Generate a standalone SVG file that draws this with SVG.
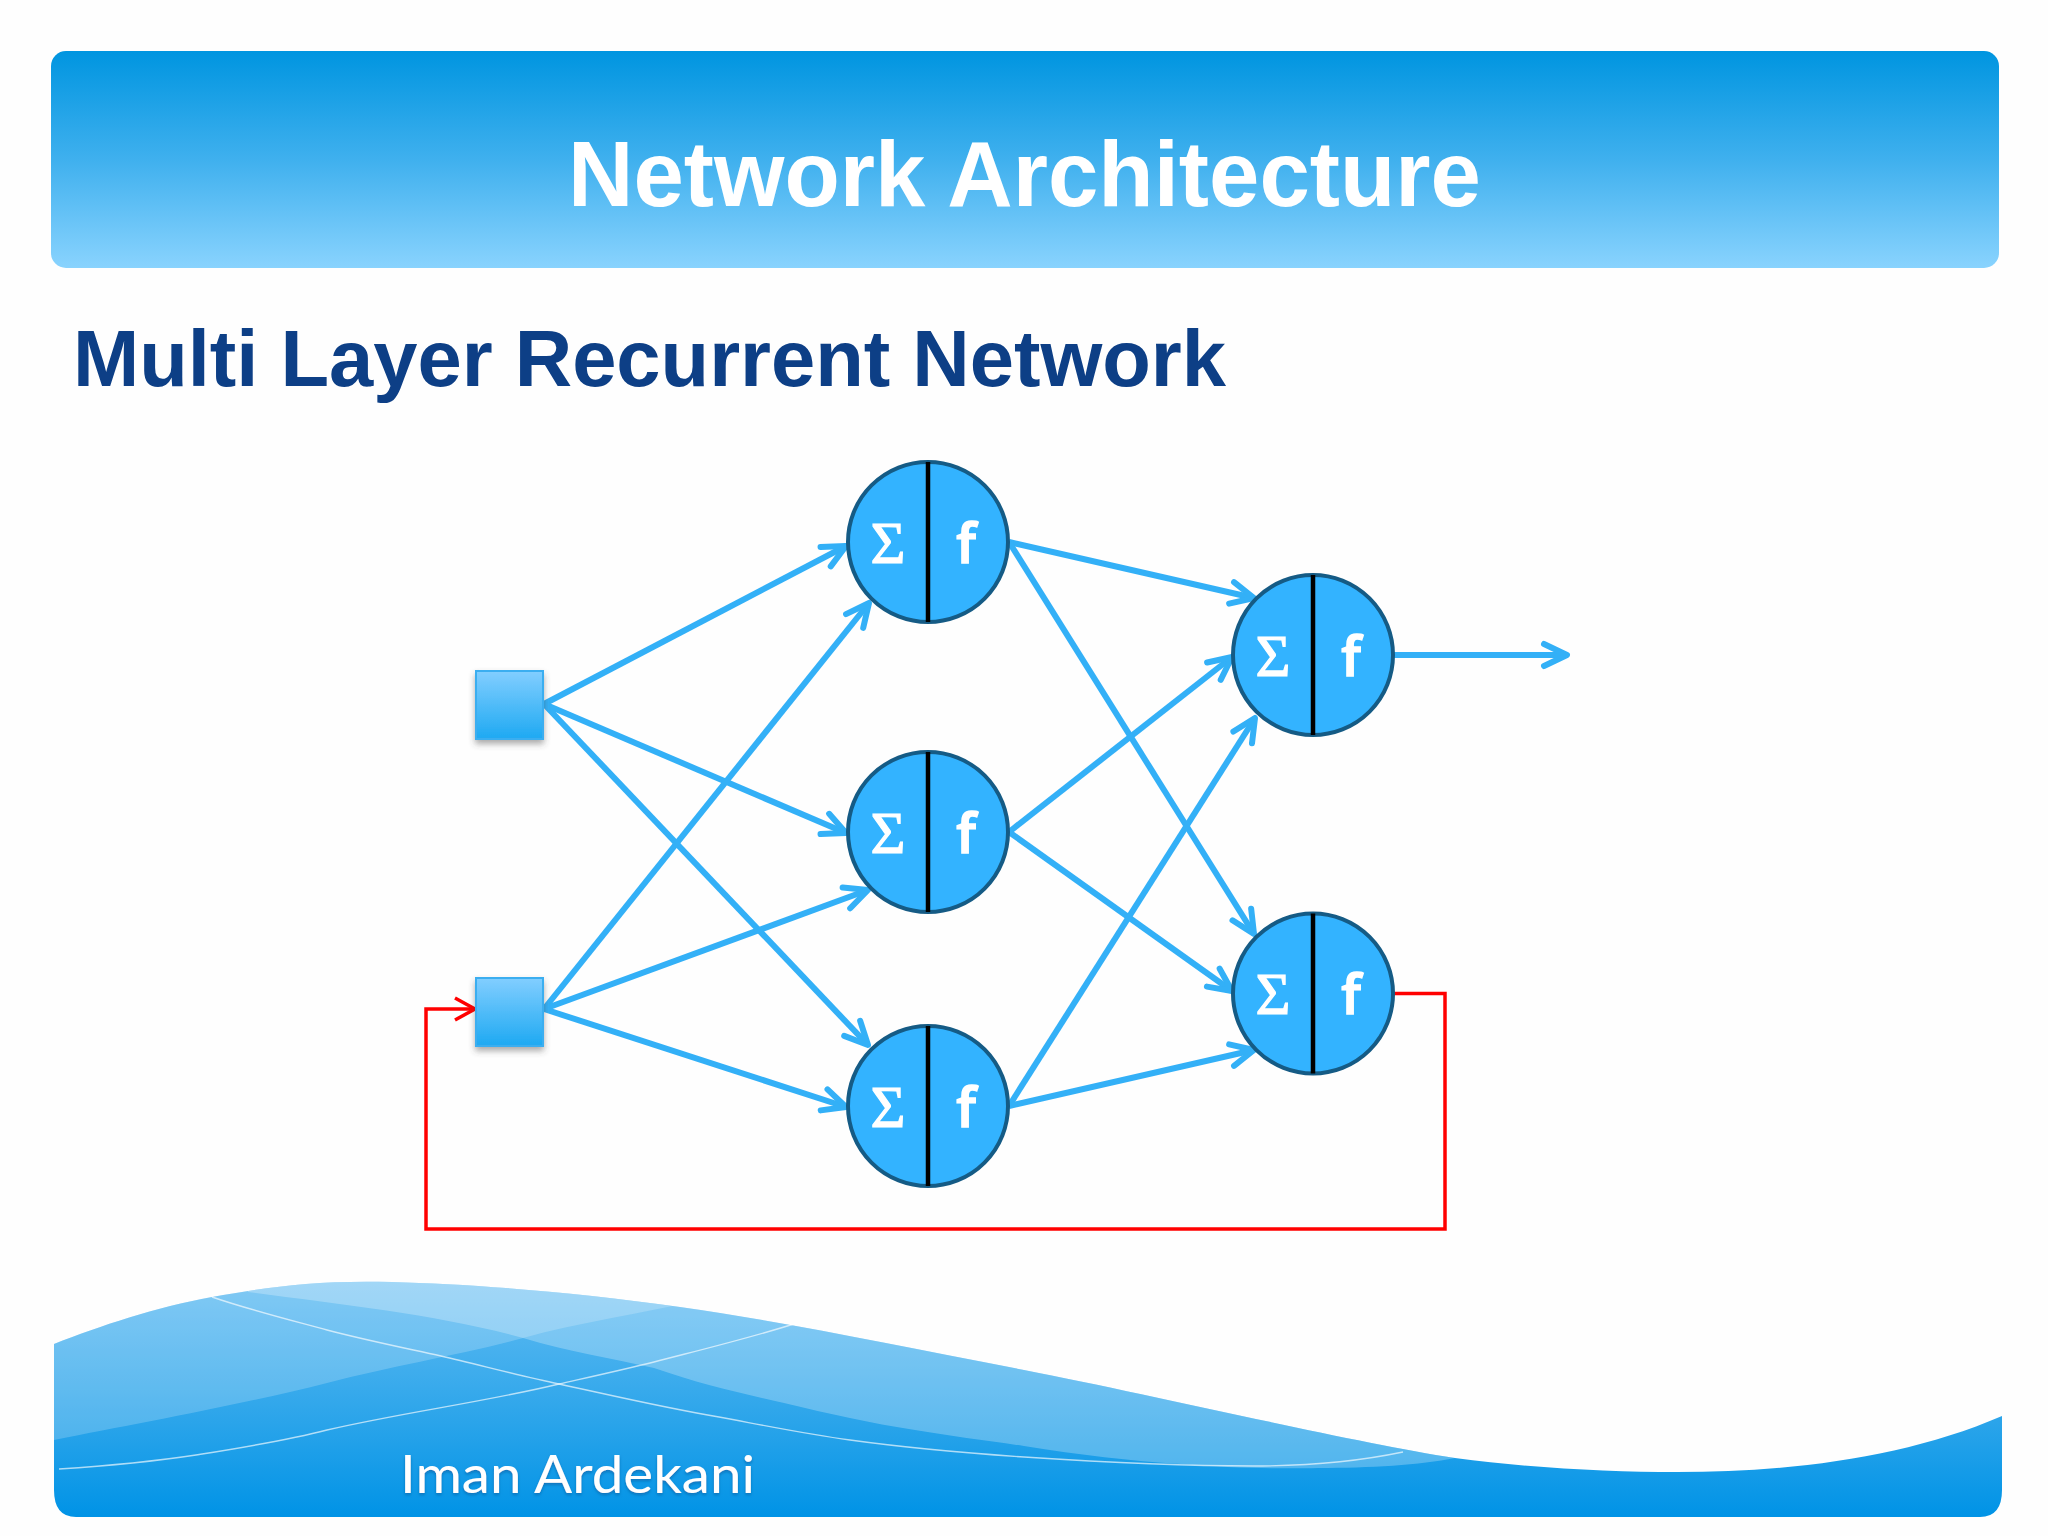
<svg xmlns="http://www.w3.org/2000/svg" width="2048" height="1536" viewBox="0 0 2048 1536">
<style>
.title{font-family:"Liberation Sans",Arial,sans-serif;font-weight:700}
.c{fill:#33b3ff;stroke:#155b85;stroke-width:4}
.div{stroke:#000;stroke-width:4.5}
.sig{font-family:"Liberation Serif",serif;font-size:60px;fill:#fff;stroke:#fff;stroke-width:1.2;text-anchor:middle}
.eff{font-family:"Open Sans",sans-serif;font-size:54px;font-weight:600;fill:#fff;stroke:#fff;stroke-width:1.5;text-anchor:middle}
.sq{fill:url(#sqg);stroke:#3aaef0;stroke-width:2;filter:url(#sh)}
#connectors line,#connectors polyline{fill:none}
.b{stroke:#33b0f7;stroke-width:6;marker-end:url(#ab)}
.r{stroke:#f00;stroke-width:3.5;marker-end:url(#ar)}
.wl{fill:none;stroke:#fff;stroke-opacity:.65;stroke-width:1.4}
</style>
<defs>
<linearGradient id="hg" x1="0" y1="0" x2="0" y2="1"><stop offset="0" stop-color="#0095e0"/><stop offset=".5" stop-color="#3fb0ee"/><stop offset="1" stop-color="#89d3fe"/></linearGradient>
<linearGradient id="sqg" x1="0" y1="0" x2="0" y2="1"><stop offset="0" stop-color="#82ceff"/><stop offset="1" stop-color="#1ea9f2"/></linearGradient>
<linearGradient id="fg" gradientUnits="userSpaceOnUse" x1="0" y1="1282" x2="0" y2="1517"><stop offset="0" stop-color="#62bcf2"/><stop offset=".6" stop-color="#2aa4ea"/><stop offset="1" stop-color="#0093e6"/></linearGradient>
<filter id="sh" x="-20%" y="-20%" width="140%" height="150%"><feDropShadow dx="0" dy="4" stdDeviation="3" flood-color="#444" flood-opacity=".45"/></filter>
<filter id="ts" x="-5%" y="-20%" width="110%" height="150%"><feDropShadow dx="0" dy="2" stdDeviation="1.5" flood-color="#0a6fb5" flood-opacity=".9"/></filter>
<marker id="ab" markerUnits="userSpaceOnUse" markerWidth="40" markerHeight="40" refX="30" refY="20" orient="auto" viewBox="0 0 40 40"><path d="M7 9L30 20L7 31" fill="none" stroke="#33b0f7" stroke-width="6" stroke-linecap="round" stroke-linejoin="round"/></marker>
<marker id="ar" markerUnits="userSpaceOnUse" markerWidth="34" markerHeight="34" refX="27" refY="17" orient="auto" viewBox="0 0 34 34"><path d="M7 6L27 17L7 28" fill="none" stroke="#f00" stroke-width="3.5"/></marker>
<clipPath id="fc"><path d="M54 1344C100 1326 156 1307 212 1297C268 1287 314 1280 392 1282C470 1284 575 1292 680 1307C785 1322 895 1345 1024 1370C1153 1395 1346 1441 1455 1458C1530 1468 1610 1472 1677 1472C1790 1472 1905 1458 2002 1416V1490Q2002 1517 1980 1517H76Q54 1517 54 1490Z"/></clipPath>
</defs>
<rect width="2048" height="1536" fill="#fefefe"/>
<g id="header">
<rect x="51" y="51" width="1948" height="217" rx="15" fill="url(#hg)"/>
<text class="title" x="568" y="206" font-size="92" fill="#fff" textLength="913" lengthAdjust="spacingAndGlyphs">Network Architecture</text>
</g>
<text class="title" x="73" y="386" font-size="80" fill="#0d3f86" textLength="1153" lengthAdjust="spacingAndGlyphs">Multi Layer Recurrent Network</text>
<g id="footer">
<path d="M54 1344C100 1326 156 1307 212 1297C268 1287 314 1280 392 1282C470 1284 575 1292 680 1307C785 1322 895 1345 1024 1370C1153 1395 1346 1441 1455 1458C1530 1468 1610 1472 1677 1472C1790 1472 1905 1458 2002 1416V1490Q2002 1517 1980 1517H76Q54 1517 54 1490Z" fill="url(#fg)"/>
<g clip-path="url(#fc)">
<path d="M54 1440C135 1424 240 1405 327 1383C395 1365 460 1355 523 1338C580 1322 640 1314 700 1300V1260H40V1440Z" fill="#fff" fill-opacity=".2"/>
<path d="M248 1292C345 1305 440 1315 523 1338C570 1352 610 1358 654 1368C700 1384 740 1393 784 1403C830 1414 870 1423 915 1430C950 1436 990 1441 1024 1446C1080 1455 1130 1461 1181 1464C1230 1468 1280 1469 1318 1468C1370 1468 1420 1465 1455 1458L1800 1260H248Z" fill="#fff" fill-opacity=".26"/>
</g>
<path class="wl" d="M212 1297C250 1310 290 1320 327 1330C365 1340 400 1347 441 1356C480 1365 520 1376 559 1384C610 1395 665 1408 719 1417C762 1425 805 1434 850 1440C908 1448 965 1453 1024 1457C1100 1462 1180 1466 1253 1466C1310 1466 1360 1461 1403 1452"/>
<path class="wl" d="M59 1469C105 1466 150 1462 196 1455C240 1448 285 1441 327 1430C405 1412 485 1402 559 1384C590 1377 622 1370 654 1362C700 1350 750 1338 797 1323"/>
<text x="400" y="1493" font-family="Lato,'Noto Sans',sans-serif" font-size="52" fill="#fff" textLength="355" lengthAdjust="spacingAndGlyphs" filter="url(#ts)">Iman Ardekani</text>
</g>
<g id="connectors">
<line class="b" x1="544" y1="704" x2="846" y2="546"/>
<line class="b" x1="544" y1="704" x2="846" y2="833"/>
<line class="b" x1="544" y1="704" x2="868" y2="1045"/>
<line class="b" x1="544" y1="1009" x2="869" y2="603"/>
<line class="b" x1="544" y1="1009" x2="868" y2="890"/>
<line class="b" x1="544" y1="1009" x2="846" y2="1107"/>
<line class="b" x1="1009" y1="542" x2="1254" y2="598"/>
<line class="b" x1="1009" y1="542" x2="1254" y2="934"/>
<line class="b" x1="1009" y1="832" x2="1232" y2="657"/>
<line class="b" x1="1009" y1="832" x2="1232" y2="991"/>
<line class="b" x1="1009" y1="1106" x2="1255" y2="718"/>
<line class="b" x1="1009" y1="1106" x2="1254" y2="1050"/>
<line class="b" x1="1394" y1="655" x2="1567" y2="655"/>
<polyline class="r" points="1394,993.5 1445,993.5 1445,1229 426,1229 426,1009 475,1009"/>
</g>
<g id="input1"><rect class="sq" x="476" y="671" width="67" height="68"/></g>
<g id="input2"><rect class="sq" x="476" y="978" width="67" height="68"/></g>
<g id="n1"><circle class="c" cx="928" cy="542" r="80"/><line class="div" x1="928" y1="462" x2="928" y2="622"/><text class="sig" x="888" y="563">Σ</text><text class="eff" x="966" y="563">f</text></g>
<g id="n2"><circle class="c" cx="928" cy="832" r="80"/><line class="div" x1="928" y1="752" x2="928" y2="912"/><text class="sig" x="888" y="853">Σ</text><text class="eff" x="966" y="853">f</text></g>
<g id="n3"><circle class="c" cx="928" cy="1106" r="80"/><line class="div" x1="928" y1="1026" x2="928" y2="1186"/><text class="sig" x="888" y="1127">Σ</text><text class="eff" x="966" y="1127">f</text></g>
<g id="n4"><circle class="c" cx="1313" cy="655" r="80"/><line class="div" x1="1313" y1="575" x2="1313" y2="735"/><text class="sig" x="1273" y="676">Σ</text><text class="eff" x="1351" y="676">f</text></g>
<g id="n5"><circle class="c" cx="1313" cy="993.5" r="80"/><line class="div" x1="1313" y1="913.5" x2="1313" y2="1073.5"/><text class="sig" x="1273" y="1014">Σ</text><text class="eff" x="1351" y="1014">f</text></g>
</svg>
